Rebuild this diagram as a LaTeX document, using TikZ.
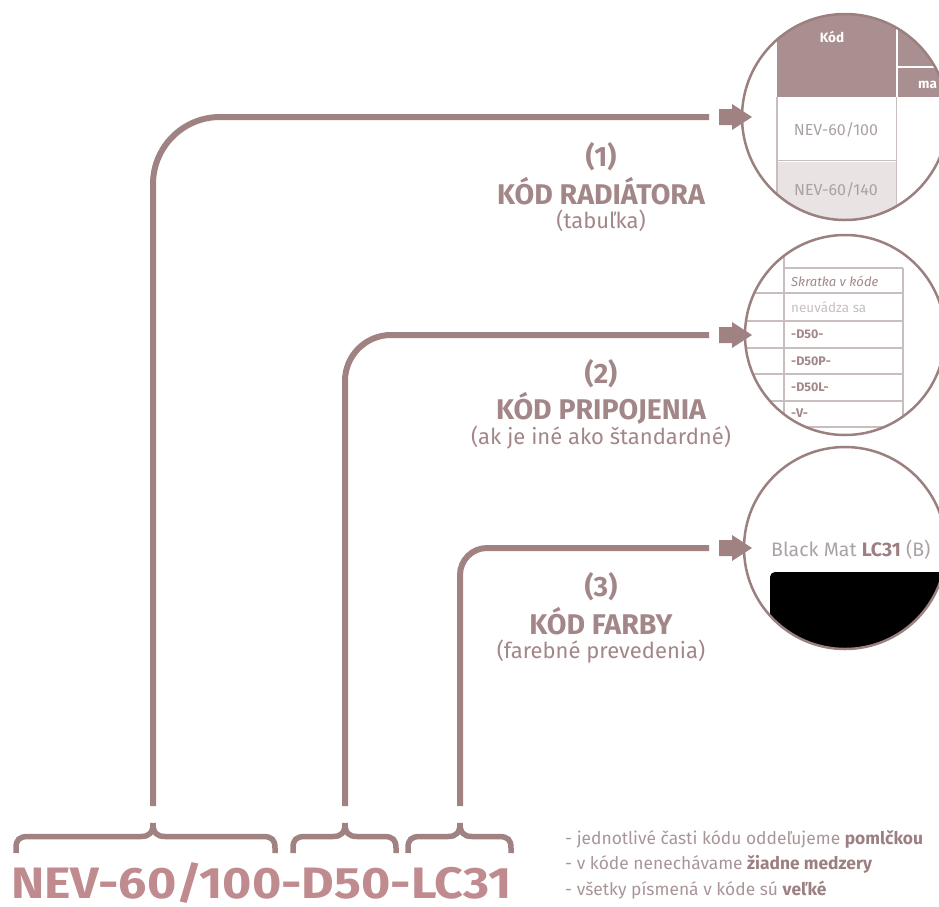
\documentclass[tikz,border=0pt]{standalone}
\usepackage{fontspec}
\setmainfont{Fira Sans}
\definecolor{connc}{HTML}{A08283}
\definecolor{codec}{HTML}{C08B8F}
\definecolor{labc}{HTML}{A38788}
\definecolor{notec}{HTML}{A89597}
\definecolor{noteb}{HTML}{9C8081}
\definecolor{circc}{HTML}{9C7F7F}
\definecolor{hdrc}{HTML}{A98F8F}
\definecolor{gridc}{HTML}{C9BEBE}
\definecolor{rowc}{HTML}{EAE3E3}
\definecolor{tabc}{HTML}{AAA2A2}
\begin{document}
\begin{tikzpicture}[x=1pt,y=-1pt,
  connline/.style={draw=connc, line width=6pt},
  bracestyle/.style={draw=connc, line width=5.5pt},
  arrowfill/.style={fill=connc},
  ring/.style={draw=circc, line width=2.5pt},
  numlab/.style={text=labc, font=\bfseries\fontsize{28}{28}\selectfont, inner sep=0pt},
  titlab/.style={text=labc, font=\bfseries\fontsize{28.5}{28.5}\selectfont, inner sep=0pt},
  sublab/.style={text=labc, font=\fontsize{22}{22}\selectfont, inner sep=0pt},
  notelab/.style={text=notec, font=\fontsize{17.4}{17.4}\selectfont, inner sep=0pt, anchor=base west},
  tabtxt/.style={text=tabc, font=\fontsize{16}{16}\selectfont, inner sep=0pt},
  tab2txt/.style={text=labc, font=\fontsize{13.5}{13.5}\selectfont, inner sep=0pt, anchor=west},
  gridline/.style={draw=gridc, line width=1.3pt}
]
\useasboundingbox (0,0) rectangle (939,906);

% ---------- circle 1 : table of codes ----------
\begin{scope}
  \clip (845,117) circle[radius=103pt];
  \fill[hdrc] (777,0) rectangle (896,97);
  \fill[hdrc] (898,0) rectangle (960,97);
  \draw[white, line width=1.5pt] (898,67) -- (960,67);
  \fill[rowc] (777,162) rectangle (896,240);
  \draw[gridline] (777,97) -- (777,240);
  \draw[gridline] (896.5,97) -- (896.5,240);
  \draw[gridline] (777,160.5) -- (896.5,160.5);
  \node[text=white, font=\bfseries\fontsize{13.5}{13.5}\selectfont, inner sep=0pt] (kod) at (832,37) {Kód};
  \node[text=white, font=\bfseries\fontsize{13.5}{13.5}\selectfont, inner sep=0pt, anchor=west] (mx) at (918,85) {ma};
  \node[tabtxt] (r1) at (836,130) {NEV-60/100};
  \node[tabtxt] (r2) at (836,190) {NEV-60/140};
\end{scope}
\draw[ring] (845,117) circle[radius=103pt];

% ---------- circle 2 : connection codes ----------
\begin{scope}
  \clip (845,335) circle[radius=100pt];
  \draw[gridline] (784,230) -- (784,427);
  \draw[gridline] (903,268) -- (903,427);
  \draw[gridline] (784,268) -- (903,268);
  \foreach \yy in {293,321,348,374,401,427}
    \draw[gridline] (730,\yy) -- (903,\yy);
  \node[tab2txt, font=\itshape\fontsize{13}{13}\selectfont] (s0) at (791,281) {Skratka v kóde};
  \node[tab2txt, text=gridc] (s1) at (791,307) {neuvádza sa};
  \node[tab2txt, font=\bfseries\fontsize{12.5}{12.5}\selectfont] (s2) at (791,334) {-D50-};
  \node[tab2txt, font=\bfseries\fontsize{12.5}{12.5}\selectfont] (s3) at (791,361) {-D50P-};
  \node[tab2txt, font=\bfseries\fontsize{12.5}{12.5}\selectfont] (s4) at (791,387) {-D50L-};
  \node[tab2txt, font=\bfseries\fontsize{12.5}{12.5}\selectfont] (s5) at (791,413) {-V-};
\end{scope}
\draw[ring] (845,335) circle[radius=100pt];

% ---------- circle 3 : colour ----------
\begin{scope}
  \clip (845,548) circle[radius=101pt];
  \node[text=tabc, font=\fontsize{19.5}{19.5}\selectfont, inner sep=0pt, anchor=west] (bm) at (771,550) {Black Mat \textcolor{noteb}{\bfseries LC31} (B)};
  \fill[black, rounded corners=5pt] (770,572) rectangle (980,720);
\end{scope}
\draw[ring] (845,548) circle[radius=101pt];

% ---------- connectors ----------
\coordinate (t1) at (153,806);
\coordinate (t2) at (345,806);
\coordinate (t3) at (460,806);
\coordinate (e1) at (709,117);
\coordinate (e2) at (709,335);
\coordinate (e3) at (709,548);
\draw[connline, rounded corners=67pt] (t1) |- (e1);
\draw[connline, rounded corners=46pt] (t2) |- (e2);
\draw[connline, rounded corners=27pt] (t3) |- (e3);

% ---------- block arrows ----------
\foreach \n/\yy in {1/117,2/335,3/548}{
  \coordinate (a\n) at (719,\yy);
  \fill[arrowfill] (a\n) ++(0,-8) -- ++(13,0) -- ++(0,-5) -- ++(20,13) -- ++(-20,13) -- ++(0,-5) -- ++(-13,0) -- cycle;
}

% ---------- labels ----------
\node[numlab] (n1) at (601,157) {(1)};
\node[titlab] (h1) at (601,191) {KÓD RADIÁTORA};
\node[sublab] (d1) at (601,221) {(tabuľka)};
\node[numlab] (n2) at (601,374) {(2)};
\node[titlab] (h2) at (601,408) {KÓD PRIPOJENIA};
\node[sublab] (d2) at (601,438) {(ak je iné ako štandardné)};
\node[numlab] (n3) at (601,587) {(3)};
\node[titlab] (h3) at (601,621) {KÓD FARBY};
\node[sublab] (d3) at (601,652) {(farebné prevedenia)};

% ---------- braces ----------
\foreach \xa/\xc/\xb in {16/153/275, 293/345/396, 408/460/511}{
  \draw[bracestyle] (\xa,853) -- (\xa,848) .. controls (\xa,840) and (\xa+3,836.5) .. (\xa+12,836.5)
    -- (\xc-12,836.5) .. controls (\xc-4,836.5) and (\xc,833) .. (\xc,823)
    .. controls (\xc,833) and (\xc+4,836.5) .. (\xc+12,836.5)
    -- (\xb-12,836.5) .. controls (\xb-3,836.5) and (\xb,840) .. (\xb,848) -- (\xb,853);
}

% ---------- code ----------
\node[text=codec, font=\bfseries\fontsize{44}{44}\selectfont, inner sep=0pt, anchor=base west] (code) at (11,898) {\scalebox{1.14}[1]{NEV-60/100-D50-LC31}};

% ---------- notes ----------
\node[notelab] (m1) at (565,844) {- jednotlivé časti kódu oddeľujeme \textcolor{noteb}{\bfseries pomlčkou}};
\node[notelab] (m2) at (565,869) {- v kóde nenechávame \textcolor{noteb}{\bfseries žiadne medzery}};
\node[notelab] (m3) at (565,895) {- všetky písmená v kóde sú \textcolor{noteb}{\bfseries veľké}};
\end{tikzpicture}
\end{document}
